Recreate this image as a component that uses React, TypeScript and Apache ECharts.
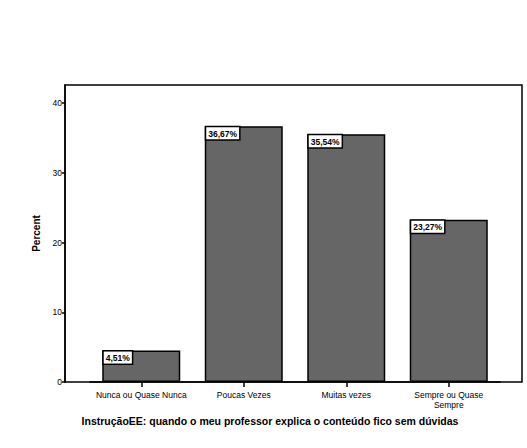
import React, { useEffect, useRef } from "react";
import * as echarts from "echarts";

const categories = ["Nunca ou Quase Nunca", "Poucas Vezes", "Muitas vezes", "Sempre ou Quase\nSempre"];
const percentValues = [4.51, 36.67, 35.54, 23.27];
const yTicks = [0, 10, 20, 30, 40];
const xTitle = "InstruçãoEE: quando o meu professor explica o conteúdo fico sem dúvidas";
const yTitle = "Percent";

const FONT = "'Liberation Sans', Arial, sans-serif";

export default function App() {
  const ref = useRef<HTMLDivElement>(null);
  useEffect(() => {
    if (!ref.current) return;
    const chart = echarts.init(ref.current, null, { renderer: "svg" });
    chart.setOption({
      animation: false,
      backgroundColor: "#ffffff",
      textStyle: { fontFamily: FONT },
      grid: { left: 90, right: 27, top: 85, bottom: 66 },
      xAxis: {
        type: "category",
        data: categories,
        axisLine: { show: true, lineStyle: { color: "#000", width: 1.5 } },
        axisTick: { show: true, alignWithLabel: true, length: 5, lineStyle: { color: "#000", width: 1.5 } },
        axisLabel: { color: "#000", fontSize: 8.5, margin: 8, lineHeight: 10, fontFamily: FONT, interval: 0 },
      },
      yAxis: {
        type: "value",
        min: 0,
        max: 42.6,
        interval: 10,
        offset: 25,
        name: yTitle,
        nameLocation: "middle",
        nameGap: 19,
        nameTextStyle: { color: "#000", fontSize: 10, fontWeight: "bold", fontFamily: FONT },
        axisLine: { show: true, lineStyle: { color: "#000", width: 1.5 } },
        axisTick: { show: true, length: 3, customValues: yTicks, lineStyle: { color: "#000", width: 1.5 } },
        axisLabel: { color: "#000", fontSize: 8.5, margin: 3, customValues: yTicks, fontFamily: FONT },
        splitLine: { show: false },
      },
      graphic: [
        {
          type: "rect",
          shape: { x: 65, y: 85, width: 457, height: 297 },
          style: { fill: "none", stroke: "#000", lineWidth: 1.5 },
          z: 10,
        },
        {
          type: "text",
          x: 270,
          y: 421,
          style: {
            text: xTitle,
            fill: "#000",
            fontSize: 10.5,
            fontWeight: "bold",
            fontFamily: FONT,
            textAlign: "center",
            textVerticalAlign: "middle",
          },
        },
      ],
      series: [
        {
          type: "bar",
          data: percentValues,
          barWidth: 78,
          itemStyle: { color: "#666666", borderColor: "#000", borderWidth: 1.5 },
          label: {
            show: true,
            position: "insideTopLeft",
            offset: [-3.5, -4],
            formatter: (p: any) => p.value.toFixed(2).replace(".", ",") + "%",
            color: "#000",
            fontSize: 8.5,
            fontWeight: "bold",
            fontFamily: FONT,
            backgroundColor: "#fff",
            borderColor: "#000",
            borderWidth: 1.5,
            padding: [2, 2, 1, 2],
          },
        },
      ],
    });
    return () => chart.dispose();
  }, []);
  return <div ref={ref} style={{ position: "fixed", left: 0, top: 0, width: 527, height: 448 }} />;
}
